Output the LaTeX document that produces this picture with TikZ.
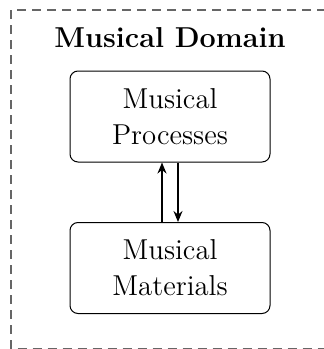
\documentclass[tikz,border=0pt]{standalone}
\usetikzlibrary{arrows.meta}
\begin{document}
\begin{tikzpicture}[x=0.5pt,y=-0.5pt,
  procbox/.style={draw, rounded corners=4pt, line width=0.5pt,
    minimum width=100pt, minimum height=45.5pt, align=center, font=\Large, inner sep=0pt},
  flow/.style={line width=0.8pt, -{Stealth[length=5.5pt,width=4.5pt]}},
  regionframe/.style={draw=black!60, line width=0.6pt, dash pattern=on 4.5pt off 3pt}]
  \useasboundingbox (0,0) rectangle (324,349);
  \clip (0,0) rectangle (324,349);
  % outer dashed region
  \draw[regionframe] (11,10) rectangle (340,348.5);
  \node[font=\Large\bfseries] (title) at (170,38) {Musical Domain};
  \node[procbox] (proc) at (170,116.5) {Musical\\Processes};
  \node[procbox] (mat) at (170,268) {Musical\\Materials};
  \draw[flow] ([xshift=-4pt]mat.north) -- ([xshift=-4pt]proc.south);
  \draw[flow] ([xshift=4pt]proc.south) -- ([xshift=4pt]mat.north);
\end{tikzpicture}
\end{document}
